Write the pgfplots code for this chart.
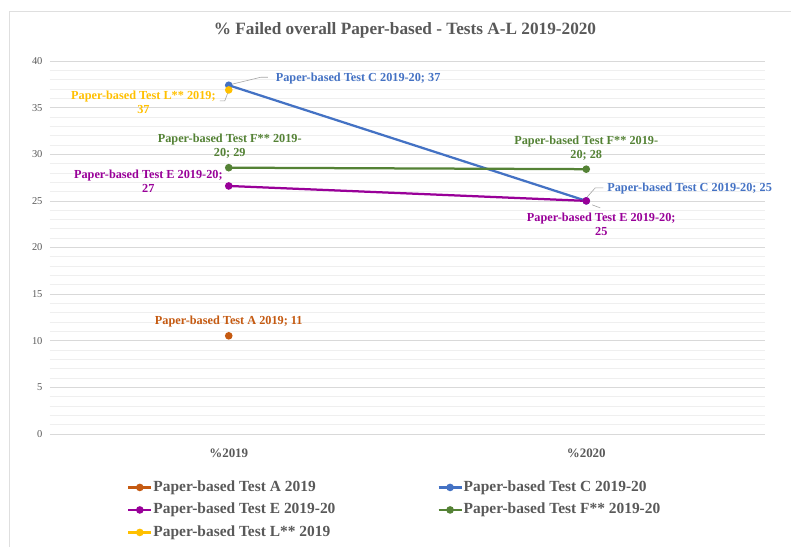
\documentclass[border=0pt]{standalone}
\usepackage{fontspec}
\setmainfont{Liberation Serif}
\usepackage{pgfplots}
\pgfplotsset{compat=1.18}

\definecolor{cA}{HTML}{C55A11}
\definecolor{cC}{HTML}{4472C4}
\definecolor{cE}{HTML}{990099}
\definecolor{cF}{HTML}{548235}
\definecolor{cL}{HTML}{FFC000}
\definecolor{txt}{HTML}{595959}
\definecolor{gmaj}{HTML}{D9D9D9}
\definecolor{gmin}{HTML}{EFEFEF}
\definecolor{lead}{HTML}{A6A6A6}

% style shared by the data labels
\pgfplotsset{
  lbl/.style={draw=none, mark=none, forget plot, point meta=y,
    every node near coord/.append style={font=\bfseries\fontsize{12.3}{14}\selectfont,
      text=#1, inner sep=0pt, align=center}},
}
\newcommand{\val}{\pgfmathprintnumber[fixed,precision=0]{\pgfplotspointmeta}}

\begin{document}
\begin{tikzpicture}
\useasboundingbox (0,0) rectangle (791bp,-547bp);
\fill[white] (0,0) rectangle (791bp,-547bp);
\draw[gray!25, line width=0.75bp] (9bp,-547bp) -- (9bp,-11bp) -- (791bp,-11bp);

\node[font=\bfseries\fontsize{17.3}{19}\selectfont, text=txt] at (405bp,-30bp)
  {\% Failed overall Paper-based - Tests A-L 2019-2020};

\begin{axis}[
  at={(50bp,-434bp)}, anchor=south west,
  scale only axis, width=715bp, height=373bp,
  xmin=-0.5, xmax=1.5, ymin=0, ymax=40,
  xtick={0,1}, xticklabels={\%2019,\%2020},
  ytick={0,5,...,40}, minor y tick num=4,
  ymajorgrids, yminorgrids,
  major grid style={gmaj, line width=0.75bp},
  minor grid style={gmin, line width=0.75bp},
  axis line style={draw=none}, major tick style={draw=none}, minor tick style={draw=none},
  /pgf/number format/assume math mode=true,
  yticklabel style={font=\fontsize{10.5}{12}\selectfont, text=txt, xshift=-4bp},
  xticklabel style={font=\bfseries\fontsize{13}{15}\selectfont, text=txt, yshift=-11bp},
  clip=false,
  legend columns=2, legend cell align=left,
  legend image code/.code={\draw[mark repeat=2, mark phase=2, #1]
    plot coordinates {(0bp,0bp) (11.5bp,0bp) (23bp,0bp)};},
  legend style={at={(0.1077,-0.1206)}, anchor=north west, draw=none, fill=none,
    inner sep=0pt, row sep=6bp,
    font=\bfseries\fontsize{15.5}{17}\selectfont, text=txt,
    nodes={inner sep=1bp, text height=11bp, text depth=3.5bp},
    /tikz/every even column/.append style={column sep=101bp}},
  every axis plot/.append style={line width=2.25bp, mark=*, mark size=2.6bp},
]
% series
\addplot[cA, mark options={fill=cA}] coordinates {(0,10.53)};
\addlegendentry{Paper-based Test A 2019}
\addplot[cC, mark options={fill=cC}] coordinates {(0,37.4) (1,25.0)};
\addlegendentry{Paper-based Test C 2019-20}
\addplot[cE, mark options={fill=cE}] coordinates {(0,26.6) (1,25.0)};
\addlegendentry{Paper-based Test E 2019-20}
\addplot[cF, mark options={fill=cF}] coordinates {(0,28.56) (1,28.4)};
\addlegendentry{Paper-based Test F** 2019-20}
\addplot[cL, mark options={fill=cL}] coordinates {(0,36.9)};
\addlegendentry{Paper-based Test L** 2019}

% leader lines
\draw[lead, line width=0.6bp] (axis cs:0,37.4) ++(3bp,1bp) -- ++(29bp,7bp) -- ++(7bp,0bp);
\draw[lead, line width=0.6bp] (axis cs:0,36.9) ++(-1bp,-3bp) -- ++(-3bp,-8bp) -- ++(-5bp,0bp);
\draw[lead, line width=0.6bp] (axis cs:1,25.0) ++(1bp,4bp) -- ++(8bp,9bp) -- ++(8bp,0bp);
\draw[lead, line width=0.6bp] (axis cs:1,25.0) ++(6bp,-4bp) -- ++(8bp,-3bp);

% data labels
\addplot[lbl=cA, nodes near coords={Paper-based Test A 2019; \val},
  nodes near coords style={anchor=center, yshift=14bp}] coordinates {(0,10.53)};
\addplot[lbl=cC, nodes near coords={Paper-based Test C 2019-20; \val},
  nodes near coords style={anchor=west, xshift=46bp, yshift=7bp}] coordinates {(0,37.4)};
\addplot[lbl=cC, nodes near coords={Paper-based Test C 2019-20; \val},
  nodes near coords style={anchor=west, xshift=20bp, yshift=12bp}] coordinates {(1,25.0)};
\addplot[lbl=cE, nodes near coords={Paper-based Test E 2019-20;\\ \val},
  nodes near coords style={anchor=east, xshift=-5bp, yshift=5bp}] coordinates {(0,26.6)};
\addplot[lbl=cE, nodes near coords={Paper-based Test E 2019-20;\\ \val},
  nodes near coords style={anchor=center, xshift=15bp, yshift=-23.5bp}] coordinates {(1,25.0)};
\addplot[lbl=cF, nodes near coords={Paper-based Test F** 2019-\\20; \val},
  nodes near coords style={anchor=center, xshift=1bp, yshift=21.7bp}] coordinates {(0,28.56)};
\addplot[lbl=cF, nodes near coords={Paper-based Test F** 2019-\\20; \val},
  nodes near coords style={anchor=center, yshift=20.7bp}] coordinates {(1,28.4)};
\addplot[lbl=cL, nodes near coords={Paper-based Test L** 2019;\\ \val},
  nodes near coords style={anchor=east, xshift=-12bp, yshift=-12bp}] coordinates {(0,36.9)};
\end{axis}
\end{tikzpicture}
\end{document}
